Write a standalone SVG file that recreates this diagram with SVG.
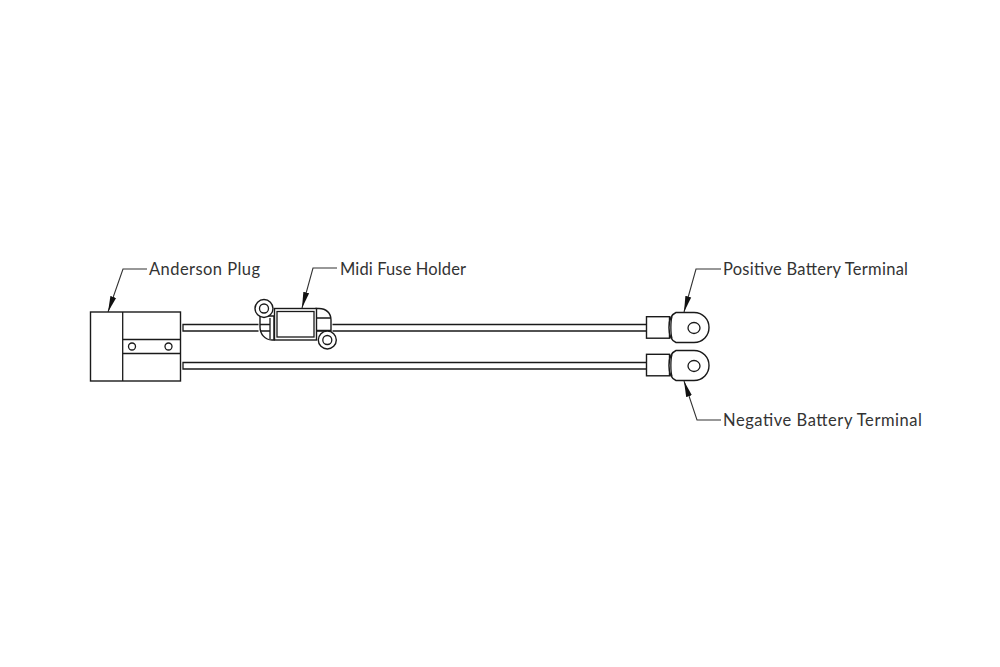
<svg xmlns="http://www.w3.org/2000/svg" width="1000" height="667" viewBox="0 0 1000 667">
<style>
.l{fill:none;stroke:#1a1a1a;stroke-width:1.3}
.f{fill:#fff;stroke:#1a1a1a;stroke-width:1.4}
.t{font-family:"Lato","Noto Sans",sans-serif;font-size:16.500px;fill:#333}
.ld{fill:none;stroke:#333;stroke-width:1.1}
</style>
<defs>
<marker id="a" markerUnits="userSpaceOnUse" markerWidth="18" markerHeight="8" refX="16" refY="4" orient="auto"><path d="M0 1L16 4L0 7Z" fill="#111"/></marker>
<g id="ring"><path class="f" d="M676 0H694C703 0 709 7 709 15C709 23 703 30 694 30H676C671 28 669 22 669 15C669 8 671 2 676 0Z"/><ellipse class="l" cx="694" cy="15.500" rx="6" ry="5.500"/><path class="l" d="M672 4C670.500 9 670.500 21 672 26"/></g>
</defs>
<rect width="1000" height="667" fill="#fff"/>
<g id="connectors">
<path class="l" d="M258.500 324.500H183V331H258.500"/>
<path class="l" d="M332.500 324.500H646M332.500 331H646"/>
<path class="l" d="M646 362.500H183V369H646"/>
<path class="ld" marker-end="url(#a)" d="M147 269H123L108 312"/>
<path class="ld" marker-end="url(#a)" d="M337 268H313L302 308"/>
<path class="ld" marker-end="url(#a)" d="M721 269H696L684 312"/>
<path class="ld" marker-end="url(#a)" d="M721 420H697L684 381"/>
</g>
<g id="anderson-plug">
<rect class="f" x="90.500" y="312" width="90" height="69"/>
<path class="l" d="M122.700 312V381M122.700 339.500H180.500M122.700 353.500H180.500"/>
<circle class="l" cx="132" cy="346.500" r="3.500"/>
<circle class="l" cx="168.500" cy="346.500" r="3.500"/>
<text class="t" x="149" y="274.500" textLength="111">Anderson Plug</text>
</g>
<g id="midi-fuse-holder">
<path class="f" d="M260 316H274V340H272C265 340 260 334 260 327Z"/>
<path class="f" d="M316 308.500H319C326 308.500 331 313 331 320V331H316Z"/>
<path class="l" d="M270 318V339M260 324.500H270M260 331H270M316 318H331M316 330.500H331"/>
<rect class="f" x="274.500" y="308.500" width="42" height="31.500"/>
<rect class="l" x="277" y="311.500" width="37" height="25.500"/>
<circle class="f" cx="264" cy="308.500" r="9"/><circle class="l" cx="264" cy="308.500" r="4.500"/>
<circle class="f" cx="327.300" cy="340" r="9"/><circle class="l" cx="327.300" cy="340" r="4.500"/>
<text class="t" x="340" y="274.500" textLength="126">Midi Fuse Holder</text>
</g>
<g id="positive-terminal">
<rect class="f" x="646.500" y="316.700" width="23" height="21.500"/>
<use href="#ring" y="312.500"/>
<text class="t" x="723" y="274.500" textLength="185">Positive Battery Terminal</text>
</g>
<g id="negative-terminal">
<rect class="f" x="646.500" y="354.300" width="23" height="21.500"/>
<use href="#ring" y="350.500"/>
<text class="t" x="723" y="426" textLength="199">Negative Battery Terminal</text>
</g>
</svg>
